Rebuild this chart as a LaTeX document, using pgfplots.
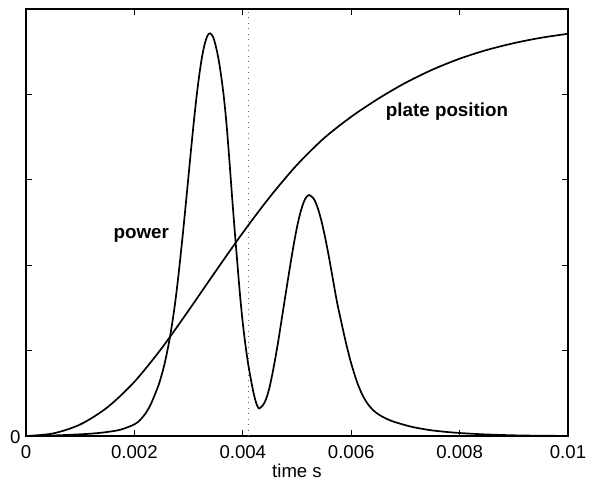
\documentclass[border=0pt]{standalone}
\usepackage{fontspec}
\setmainfont{Liberation Sans}
\usepackage{pgfplots}
\pgfplotsset{compat=1.18}
\begin{document}
\begin{tikzpicture}
\useasboundingbox (0,0) rectangle (592bp,481bp);
\begin{axis}[
  at={(26bp,45bp)}, anchor=south west,
  scale only axis, width=542bp, height=427bp,
  xmin=0, xmax=0.01, ymin=0, ymax=5,
  xtick={0,0.002,0.004,0.006,0.008,0.01},
  xticklabels={0,0.002,0.004,0.006,0.008,0.01},
  scaled x ticks=false,
  ytick={0,1,2,3,4,5},
  yticklabels={0,,,,,},
  tick align=inside, tick pos=both,
  major tick length=5.7bp,
  every tick/.style={black, line width=1bp},
  axis line style={line width=1.2bp},
  tick label style={font=\fontsize{18.6bp}{22bp}\selectfont},
  xticklabel style={anchor=base, yshift=-22.3bp, inner sep=0pt},
  yticklabel style={anchor=east, inner sep=0pt, xshift=-5.3bp, yshift=-1.5bp},
  xlabel={time s},
  xlabel style={font=\fontsize{18.6bp}{22bp}\selectfont, at={(axis description cs:0.5,0)}, anchor=base, yshift=-41bp, inner sep=0pt},
  clip=false,
]
% dotted marker line
\addplot[black!60, line width=0.8bp, dash pattern=on 0.9bp off 4.6bp] coordinates {(0.0041,0) (0.0041,5)};
% power
\addplot[black, line width=1.7bp, smooth, tension=0.5] coordinates {
(0.0000,0.000) (0.0005,0.006) (0.0010,0.020) (0.00125,0.030) (0.0015,0.047) (0.00175,0.075)
(0.0020,0.136) (0.0021,0.184) (0.0022,0.259) (0.0023,0.368) (0.0024,0.520) (0.00245,0.603)
(0.0025,0.708) (0.00255,0.827) (0.0026,0.973) (0.00265,1.137) (0.0027,1.330) (0.00275,1.552)
(0.0028,1.811) (0.00285,2.099) (0.0029,2.405) (0.00295,2.728) (0.0030,3.055) (0.00305,3.386)
(0.0031,3.701) (0.00315,3.990) (0.0032,4.242) (0.00325,4.447) (0.0033,4.598) (0.00335,4.689)
(0.003395,4.715)
(0.00345,4.675) (0.0035,4.570) (0.00355,4.420) (0.0036,4.220) (0.00365,3.970) (0.0037,3.650)
(0.00375,3.250) (0.0038,2.820) (0.00385,2.410) (0.0039,2.020) (0.00395,1.640) (0.0040,1.320)
(0.00405,1.060) (0.0041,0.840) (0.00415,0.660) (0.0042,0.500) (0.00425,0.380) (0.004286,0.330)
(0.0043,0.322) (0.00435,0.345) (0.0044,0.390) (0.00445,0.470) (0.0045,0.590) (0.00455,0.740)
(0.0046,0.910) (0.00465,1.095) (0.0047,1.295) (0.00475,1.499) (0.0048,1.700) (0.00485,1.900)
(0.0049,2.095) (0.00495,2.279) (0.0050,2.445) (0.00505,2.586) (0.0051,2.696) (0.00515,2.775)
(0.0052,2.815) (0.005227,2.822)
(0.0053,2.786) (0.00535,2.725) (0.0054,2.635) (0.00545,2.520) (0.0055,2.382) (0.00555,2.227)
(0.0056,2.058) (0.00565,1.881) (0.0057,1.700) (0.00575,1.530) (0.0058,1.385) (0.00585,1.240)
(0.0059,1.100) (0.00595,0.970) (0.0060,0.850) (0.0061,0.645) (0.0062,0.490) (0.0063,0.380)
(0.0064,0.305) (0.0065,0.255) (0.0066,0.218) (0.00675,0.175) (0.0069,0.145) (0.0071,0.110)
(0.0073,0.085) (0.0075,0.065) (0.0078,0.045) (0.0081,0.031) (0.0085,0.018) (0.0090,0.008)
(0.0095,0.003) (0.0100,0.001)
};
% plate position
\addplot[black, line width=1.7bp, smooth, tension=0.5] coordinates {
(0.0000,0.000) (0.0005,0.030) (0.0010,0.135) (0.0015,0.335) (0.0020,0.635) (0.0025,1.025)
(0.0030,1.470) (0.0035,1.930) (0.0040,2.380) (0.0045,2.800) (0.0050,3.175) (0.0055,3.488)
(0.0060,3.738) (0.0065,3.950) (0.0070,4.135) (0.0075,4.290) (0.0080,4.418) (0.0085,4.520)
(0.0090,4.600) (0.0095,4.663) (0.0100,4.710)
};
\node[anchor=base, inner sep=0pt, font=\fontsize{18.8bp}{22bp}\selectfont\bfseries] at (axis cs:0.002127,2.315) {power};
\node[anchor=base, inner sep=0pt, font=\fontsize{18.8bp}{22bp}\selectfont\bfseries] at (axis cs:0.007768,3.739) {plate position};
\end{axis}
\end{tikzpicture}
\end{document}
